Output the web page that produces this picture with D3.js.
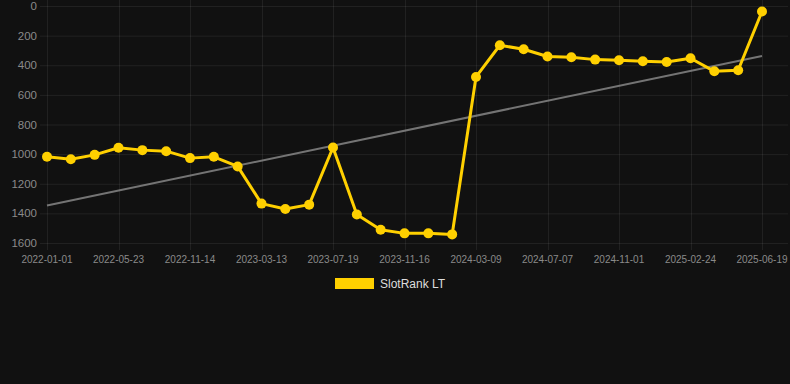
<!DOCTYPE html>
<html><head><meta charset="utf-8">
<script src="https://cdn.jsdelivr.net/npm/d3@7"></script>
<style>
html,body{margin:0;padding:0;background:#111111;}
svg{display:block;font-family:"Liberation Sans",Arial,Helvetica,sans-serif;}
</style></head>
<body><svg id="c" width="790" height="384"></svg>
<script>
const dates = ["2022-01-01","2022-02-17","2022-04-05","2022-05-23","2022-07-22","2022-09-19","2022-11-14","2023-01-02","2023-02-06","2023-03-13","2023-04-23","2023-06-04","2023-07-19","2023-08-30","2023-10-08","2023-11-16","2023-12-26","2024-01-31","2024-03-09","2024-04-17","2024-05-29","2024-07-07","2024-08-15","2024-09-23","2024-11-01","2024-12-08","2025-01-17","2025-02-24","2025-04-02","2025-05-11","2025-06-19"];
const rankValues = [1018,1034,1005,957,973,980,1027,1018,1083,1334,1370,1341,955,1408,1510,1535,1535,1542,479,265,292,341,346,362,366,373,378,353,441,434,37];
const yTicks = [0,200,400,600,800,1000,1200,1400,1600];
const seriesName = "SlotRank LT";

const svg = d3.select("#c");
const pLeft = 47, pRight = 762, pTop = 6, pBottom = 243;
const x = d3.scalePoint().domain(d3.range(dates.length)).range([pLeft, pRight]);
const y = d3.scaleLinear().domain([0,1600]).range([pTop, pBottom]);

const grid = "rgba(255,255,255,0.07)";
svg.append("g").selectAll("line").data(yTicks).join("line")
  .attr("x1", 40).attr("x2", 788)
  .attr("y1", d=>y(d)+0.5).attr("y2", d=>y(d)+0.5)
  .attr("stroke", grid).attr("stroke-width",1);
const labelIdx = d3.range(0, dates.length, 3);
svg.append("g").selectAll("line").data(labelIdx).join("line")
  .attr("x1", d=>Math.round(x(d))+0.5).attr("x2", d=>Math.round(x(d))+0.5)
  .attr("y1", 0).attr("y2", pBottom+7)
  .attr("stroke", grid).attr("stroke-width",1);

svg.append("g").selectAll("text").data(yTicks).join("text")
  .attr("x", 37).attr("y", d=>y(d)).attr("dy","0.35em")
  .attr("text-anchor","end").attr("fill","#8a8a8a").attr("font-size","11.5px")
  .text(d=>d);
svg.append("g").selectAll("text").data(labelIdx).join("text")
  .attr("x", d=>x(d)).attr("y", 259).attr("dy","0.35em")
  .attr("text-anchor","middle").attr("fill","#8a8a8a").attr("font-size","10px")
  .text(d=>dates[d]);

const n = rankValues.length;
const mx = d3.mean(d3.range(n)), my = d3.mean(rankValues);
let sxy=0, sxx=0;
rankValues.forEach((v,i)=>{sxy+=(i-mx)*(v-my); sxx+=(i-mx)*(i-mx);});
const slope = sxy/sxx, icpt = my - slope*mx;
svg.append("line")
  .attr("x1", x(0)).attr("y1", y(icpt))
  .attr("x2", x(n-1)).attr("y2", y(icpt+slope*(n-1)))
  .attr("stroke","rgba(150,150,150,0.75)").attr("stroke-width",2);

const color = "#FFD000";
svg.append("path").datum(rankValues)
  .attr("fill","none").attr("stroke",color).attr("stroke-width",3)
  .attr("stroke-linejoin","round")
  .attr("d", d3.line().x((d,i)=>x(i)).y(d=>y(d)));
svg.append("g").selectAll("circle").data(rankValues).join("circle")
  .attr("cx",(d,i)=>x(i)).attr("cy",d=>y(d)).attr("r",5)
  .attr("fill",color);

svg.append("rect").attr("x",335).attr("y",278).attr("width",39).attr("height",11).attr("fill",color);
svg.append("text").attr("x",380).attr("y",284).attr("dy","0.35em")
  .attr("fill","#dddddd").attr("font-size","12px").text(seriesName);
</script></body></html>
